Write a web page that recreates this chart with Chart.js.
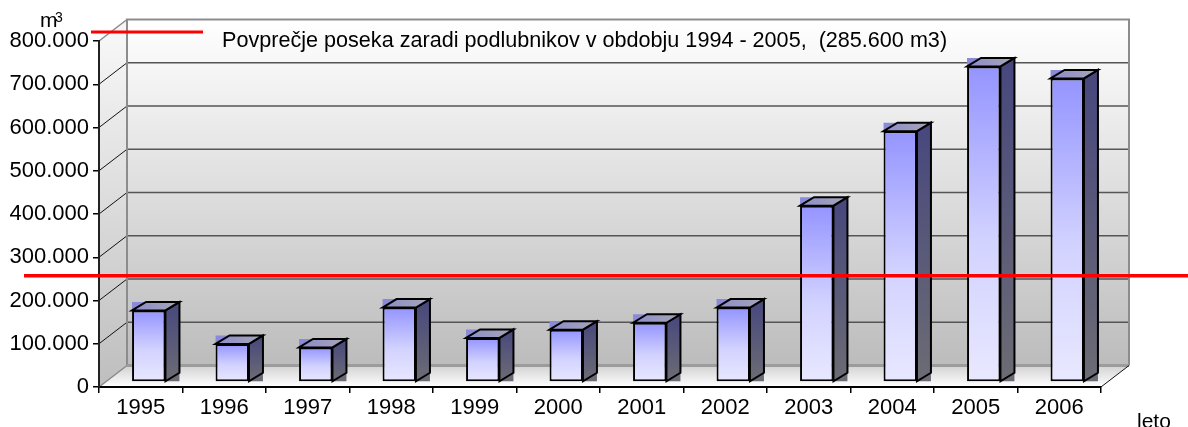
<!DOCTYPE html>
<html><head><meta charset="utf-8">
<script src="https://cdn.jsdelivr.net/npm/chart.js@4"></script>
<style>html,body{margin:0;padding:0;background:#fff;overflow:hidden}</style>
</head><body>
<canvas id="c" width="1188" height="427"></canvas>
<script>
// ---- data ----
const years = ['1995','1996','1997','1998','1999','2000','2001','2002','2003','2004','2005','2006'];
const posek = [165500, 88000, 80000, 172000, 102000, 121000, 137000, 172000, 407600, 580000, 729700, 702000];
const yMin = 0, yMax = 800000, yStep = 100000;
const avgLevel = 257000;
const avgLabel = 'Povprečje poseka zaradi podlubnikov v obdobju 1994 - 2005,  (285.600 m3)';
const yUnit = 'm', yUnitSup = '3';
const xTitle = 'leto';

// ---- style ----
const FONT = '"Liberation Sans", Arial, sans-serif';
const WALL = {dx: 28, dy: -21.5};
const BAR_SHIFT = {dx: 8, dy: -5};
const BAR_DEPTH = {dx: 14, dy: -8.5};

function fmt(v){ return v === 0 ? '0' : String(v).replace(/\B(?=(\d{3})+(?!\d))/g, '.'); }

const wallsPlugin = {
  id: 'walls',
  beforeDraw(chart){
    const {ctx, chartArea:{left,right,top,bottom}, scales:{y}} = chart;
    const {dx, dy} = WALL;
    ctx.save();
    const g = ctx.createLinearGradient(0, top+dy, 0, bottom+dy);
    g.addColorStop(0, '#ffffff'); g.addColorStop(1, '#bcbcbc');
    ctx.fillStyle = g;
    ctx.fillRect(left+dx, top+dy, right-left, bottom-top);
    const g2 = ctx.createLinearGradient(0, top, 0, bottom);
    g2.addColorStop(0, '#f6f6f6'); g2.addColorStop(1, '#bebebe');
    ctx.beginPath(); ctx.moveTo(left, top); ctx.lineTo(left+dx, top+dy); ctx.lineTo(left+dx, bottom+dy); ctx.lineTo(left, bottom); ctx.closePath();
    ctx.fillStyle = g2; ctx.fill();
    const g3 = ctx.createLinearGradient(0, bottom+dy, 0, bottom);
    g3.addColorStop(0, '#d2d2d2'); g3.addColorStop(1, '#ffffff');
    ctx.beginPath(); ctx.moveTo(left, bottom); ctx.lineTo(left+dx, bottom+dy); ctx.lineTo(right+dx, bottom+dy); ctx.lineTo(right, bottom); ctx.closePath();
    ctx.fillStyle = g3; ctx.fill();
    y.ticks.forEach(t => {
      const py = y.getPixelForValue(t.value);
      const edge = (t.value === yMin || t.value === yMax);
      if (!edge) {
        ctx.strokeStyle = '#555'; ctx.lineWidth = 1.5;
        ctx.beginPath(); ctx.moveTo(left+dx, py+dy); ctx.lineTo(right+dx, py+dy); ctx.stroke();
      }
      ctx.strokeStyle = edge ? '#8a8a8a' : '#111'; ctx.lineWidth = edge ? 1.5 : 1;
      ctx.beginPath(); ctx.moveTo(left, py); ctx.lineTo(left+dx, py+dy); ctx.stroke();
    });
    ctx.strokeStyle = '#8c8c8c'; ctx.lineWidth = 2;
    ctx.beginPath(); ctx.moveTo(left+dx, bottom+dy); ctx.lineTo(left+dx, top+dy); ctx.lineTo(right+dx, top+dy); ctx.lineTo(right+dx, bottom+dy); ctx.stroke();
    ctx.strokeStyle = '#9c9c9c'; ctx.lineWidth = 3;
    ctx.beginPath(); ctx.moveTo(left+dx, bottom+dy); ctx.lineTo(right+dx, bottom+dy); ctx.stroke();
    ctx.strokeStyle = '#111'; ctx.lineWidth = 1;
    ctx.beginPath(); ctx.moveTo(right, bottom); ctx.lineTo(right+dx, bottom+dy); ctx.stroke();
    ctx.restore();
  },
  beforeDatasetsDraw(chart){
    chart.ctx.save();
    chart.ctx.translate(BAR_SHIFT.dx, BAR_SHIFT.dy);
  },
  afterDatasetsDraw(chart){
    const ctx = chart.ctx;
    const {dx, dy} = BAR_DEPTH;
    chart.getDatasetMeta(0).data.forEach(bar => {
      const {x, y, base, width} = bar.getProps(['x','y','base','width'], true);
      const l = x - width/2, r = x + width/2, t = y, b = base;
      ctx.save();
      ctx.lineJoin = 'miter';
      ctx.fillStyle = '#8a8ad8';
      ctx.beginPath(); ctx.moveTo(l, t); ctx.lineTo(l, t+dy); ctx.lineTo(l+dx, t+dy); ctx.closePath(); ctx.fill();
      ctx.fillStyle = '#6c6c76';
      ctx.beginPath(); ctx.moveTo(r, b); ctx.lineTo(r+dx, b+dy); ctx.lineTo(r+dx, b); ctx.closePath(); ctx.fill();
      const gs = ctx.createLinearGradient(0, t+dy, 0, b);
      gs.addColorStop(0, '#47477e'); gs.addColorStop(1, '#6c6c74');
      ctx.beginPath(); ctx.moveTo(r, t); ctx.lineTo(r+dx, t+dy); ctx.lineTo(r+dx, b+dy); ctx.lineTo(r, b); ctx.closePath();
      ctx.fillStyle = gs; ctx.fill();
      ctx.strokeStyle = '#000'; ctx.lineWidth = 2; ctx.stroke();
      const gt = ctx.createLinearGradient(l, 0, r+dx, 0);
      gt.addColorStop(0, '#8c8ccc'); gt.addColorStop(1, '#a6a6b6');
      ctx.beginPath(); ctx.moveTo(l, t); ctx.lineTo(l+dx, t+dy); ctx.lineTo(r+dx, t+dy); ctx.lineTo(r, t); ctx.closePath();
      ctx.fillStyle = gt; ctx.fill();
      ctx.stroke();
      ctx.restore();
    });
    ctx.restore();

    const ys = chart.scales.y;
    const py = ys.getPixelForValue(avgLevel);
    ctx.save();
    ctx.strokeStyle = '#ff0000'; ctx.lineWidth = 3.5;
    ctx.beginPath(); ctx.moveTo(24, py); ctx.lineTo(chart.width, py); ctx.stroke();
    ctx.lineWidth = 3;
    ctx.beginPath(); ctx.moveTo(91, 32); ctx.lineTo(203, 32); ctx.stroke();
    ctx.fillStyle = '#000';
    ctx.textBaseline = 'alphabetic'; ctx.textAlign = 'left';
    ctx.font = '21.6px ' + FONT;
    ctx.fillText(avgLabel, 222, 46.5);
    ctx.font = '21px ' + FONT;
    ctx.fillText(yUnit, 40, 27);
    ctx.font = '14px ' + FONT;
    ctx.fillText(yUnitSup, 55, 21.5);
    ctx.font = '21px ' + FONT;
    ctx.fillText(xTitle, 1137, 428);
    ctx.restore();
  }
};

function frontGradient(c){
  const ch = c.chart, ys = ch.scales.y;
  if (!ys || c.type !== 'data' || !ch.chartArea) return '#b8b8ff';
  const t = ys.getPixelForValue(posek[c.dataIndex]), b = ys.getPixelForValue(0);
  if (!Number.isFinite(t) || !Number.isFinite(b) || t === b) return '#b8b8ff';
  const g = ch.ctx.createLinearGradient(0, t, 0, b);
  g.addColorStop(0, '#9494ff');
  g.addColorStop(0.55, '#d2d2ff');
  g.addColorStop(1, '#e8e8ff');
  return g;
}

new Chart(document.getElementById('c'), {
  type: 'bar',
  data: {
    labels: years,
    datasets: [{
      label: 'posek',
      data: posek,
      backgroundColor: frontGradient,
      borderColor: '#000',
      borderWidth: 2,
      borderSkipped: false,
      categoryPercentage: 1,
      barPercentage: 0.4,
      clip: false
    }]
  },
  options: {
    responsive: false,
    animation: false,
    devicePixelRatio: 1,
    layout: { padding: { top: 41, right: 87, left: 0, bottom: 0 } },
    plugins: { legend: { display: false }, tooltip: { enabled: false }, title: { display: false } },
    scales: {
      x: {
        afterFit(s){ s.height = 40; },
        grid: { offset: true, drawOnChartArea: false, tickLength: 6, color: '#000', lineWidth: 1.5 },
        border: { display: true, color: '#000', width: 2 },
        ticks: { font: { family: FONT, size: 22 }, color: '#000', padding: 2, maxRotation: 0 }
      },
      y: {
        min: yMin, max: yMax,
        afterFit(s){ s.width = 99; },
        grid: { drawOnChartArea: false, tickLength: 6, color: '#000', lineWidth: 1.5 },
        border: { display: true, color: '#222', width: 2 },
        ticks: { stepSize: yStep, font: { family: FONT, size: 22 }, color: '#000', padding: 4, callback: v => fmt(v) }
      }
    }
  },
  plugins: [wallsPlugin]
});
</script>
</body></html>
